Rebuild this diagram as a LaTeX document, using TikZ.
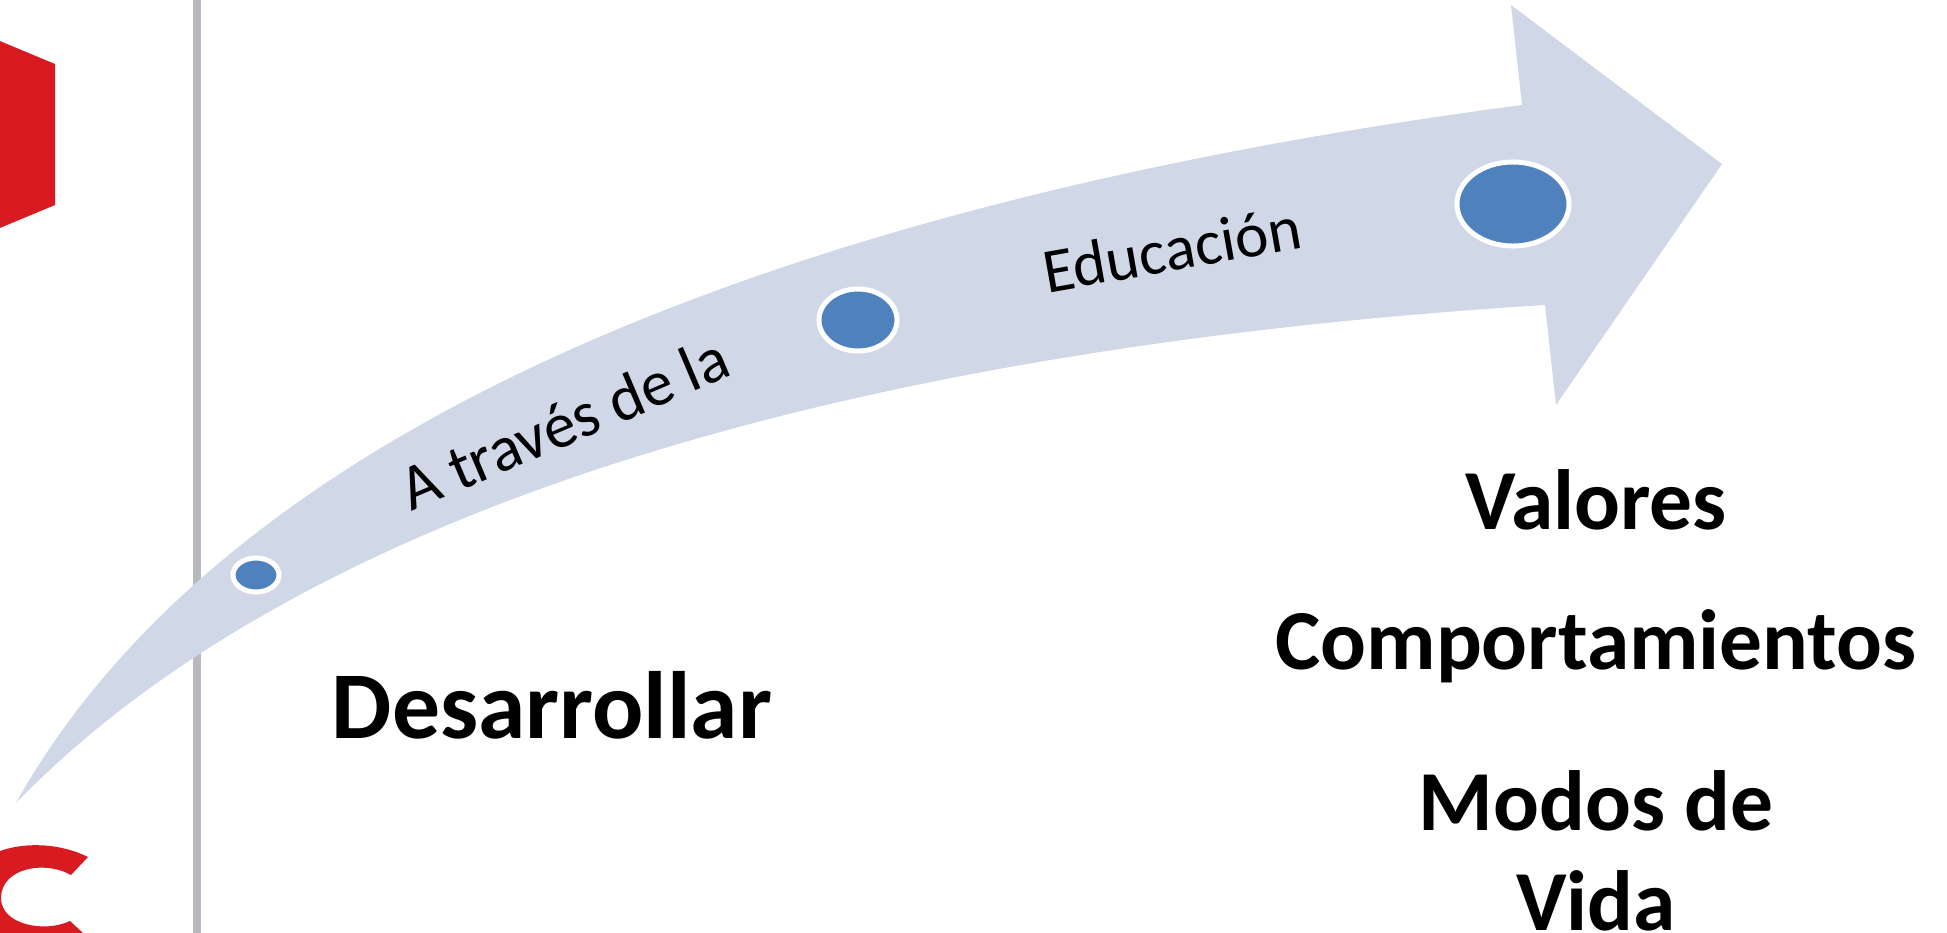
\documentclass[tikz,border=0pt]{standalone}
\usepackage{fontspec}
\setmainfont{Carlito}
\usetikzlibrary{positioning}
\usetikzlibrary{shapes.geometric}
\definecolor{arrowfill}{HTML}{D0D8E8}
\definecolor{dotblue}{HTML}{4F81BD}
\definecolor{barred}{HTML}{D81A21}
\definecolor{bargray}{HTML}{B8B9BD}
\tikzset{
  dot/.style={ellipse, fill=dotblue, draw=white, line width=0.05cm, inner sep=0pt},
  bigword/.style={font=\fontsize{24.3}{28.5}\selectfont\bfseries, align=center, inner sep=0pt},
  pathword/.style={inner sep=0pt}
}
\begin{document}
\begin{tikzpicture}[x=0.01cm,y=-0.01cm]

\useasboundingbox (0,0) rectangle (1947,933);
\clip (0,0) rectangle (1947,933);

% red logo pieces
\fill[barred] (-5,39)--(55,64)--(55,205)--(-5,230)--cycle;
\fill[barred] (88,857) .. controls (60,843) and (25,842) .. (0,851)
  -- (-5,860) -- (-5,940) -- (0,945) -- (90,945) -- (83,933) -- (70,921)
  .. controls (45,933) and (1,925) .. (1,898)
  .. controls (1,868) and (45,860) .. (71,875) -- cycle;

% gray bar
\fill[bargray] (193,0) rectangle (201,933);

% big arrow
\fill[arrowfill] (16,803)
  .. controls (230,420) and (800,200) .. (1522,105)
  -- (1511,5) -- (1722,164) -- (1556,405) -- (1545,305)
  .. controls (900,345) and (320,490) .. (16,803) -- cycle;

% dots on the arrow
\node[dot, minimum width=0.46cm, minimum height=0.34cm] (dotA) at (256,575) {};
\node[dot, minimum width=0.78cm, minimum height=0.62cm] (dotB) at (858,320) {};
\node[dot, minimum width=1.12cm, minimum height=0.84cm] (dotC) at (1513,204) {};

% nodes
{
\node[pathword, font=\fontsize{18.3}{22}\selectfont, rotate=23] (wordA) at (564,423) {A través de la};
\node[pathword, font=\fontsize{18}{22}\selectfont, rotate=10] (wordB) at (1172,249) {Educación};

\node[bigword, font=\fontsize{27.2}{32}\selectfont\bfseries] (wordC) at (552,705) {Desarrollar};
\node[bigword] (wordD) at (1596,500) {Valores};
\node[bigword] (wordE) at (1596,646) {Comportamientos};
\node[bigword] (wordF) at (1596,851) {Modos de\\Vida};
}

\end{tikzpicture}
\end{document}
